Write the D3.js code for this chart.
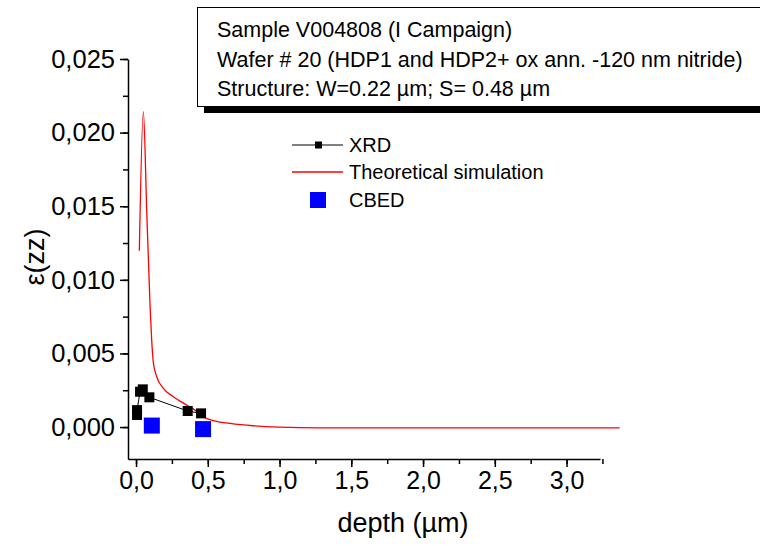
<!DOCTYPE html>
<html>
<head>
<meta charset="utf-8">
<script src="https://cdn.jsdelivr.net/npm/d3@7"></script>
<style>
  body { margin: 0; background: #fff; }
  svg { font-family: "Liberation Sans", Arial, sans-serif; }
</style>
</head>
<body>
<script>
// XRD points (depth in um, strain)
var xrdDepth = [0.007, 0.007, 0.028, 0.047, 0.093, 0.36, 0.453];
var xrdStrain = [0.00082, 0.00115, 0.0024, 0.00256, 0.00202, 0.00109, 0.00093];

// CBED points
var cbedDepth = [0.11, 0.467];
var cbedStrain = [0.0001, -0.00014];

// theoretical simulation curve
var simDepth = [0.023, 0.051, 0.075, 0.098, 0.109, 0.121, 0.144, 0.19, 0.26, 0.353, 0.411, 0.469, 0.539, 0.655, 0.817, 1.0, 1.28, 2.0, 2.75, 3.37];
var simStrain = [0.01198, 0.02142, 0.01454, 0.00817, 0.00591, 0.00435, 0.00342, 0.00263, 0.00206, 0.00149, 0.00115, 0.0007, 0.00043, 0.00025, 0.00009, 0.0, -0.00005, -0.00005, -0.00005, -0.00005];

var xTicks = [0, 0.5, 1.0, 1.5, 2.0, 2.5, 3.0];
var yTicks = [0, 0.005, 0.01, 0.015, 0.02, 0.025];
var legendNames = ["XRD", "Theoretical simulation", "CBED"];
var noteLines = ["Sample V004808 (I Campaign)",
  "Wafer # 20 (HDP1 and HDP2+ ox ann. -120 nm nitride)",
  "Structure: W=0.22 \u00b5m; S= 0.48 \u00b5m"];

var width = 760, height = 546;

var svg = d3.select("body").append("svg")
  .attr("width", width)
  .attr("height", height);

var x = d3.scaleLinear().domain([-0.056, 3.233]).range([128, 600]);
var y = d3.scaleLinear().domain([-0.00217, 0.025]).range([459, 59]);

var loc = d3.formatLocale({ decimal: ",", thousands: ".", grouping: [3], currency: ["", ""] });

// minor ticks
svg.append("g")
  .attr("transform", "translate(0,459)")
  .call(d3.axisBottom(x).tickValues(d3.range(0, 3.26, 0.25)).tickSize(5).tickFormat("").tickSizeOuter(0))
  .call(function (g) { g.select(".domain").remove(); })
  .selectAll("line").attr("stroke-width", 1.5);

svg.append("g")
  .attr("transform", "translate(128,0)")
  .call(d3.axisLeft(y).tickValues(d3.range(-0.0025, 0.0251, 0.0025).filter(function (v) { return v > -0.00217; })).tickSize(5).tickFormat("").tickSizeOuter(0))
  .call(function (g) { g.select(".domain").remove(); })
  .selectAll("line").attr("stroke-width", 1.5);

// major axes
var xAxis = svg.append("g")
  .attr("transform", "translate(0,459)")
  .call(d3.axisBottom(x).tickValues(xTicks).tickSize(8).tickPadding(4).tickSizeOuter(0)
    .tickFormat(loc.format(".1f")));
xAxis.select(".domain").attr("stroke-width", 1.5);
xAxis.selectAll("line").attr("stroke-width", 1.5);
xAxis.selectAll("text").attr("font-size", 25).attr("font-family", "Liberation Sans, Arial, sans-serif").attr("fill", "#000");

var yAxis = svg.append("g")
  .attr("transform", "translate(128,0)")
  .call(d3.axisLeft(y).tickValues(yTicks).tickSize(8).tickPadding(5).tickSizeOuter(0)
    .tickFormat(loc.format(".3f")));
yAxis.select(".domain").attr("stroke-width", 1.5);
yAxis.selectAll("line").attr("stroke-width", 1.5);
yAxis.selectAll("text").attr("font-size", 25.5).attr("font-family", "Liberation Sans, Arial, sans-serif").attr("fill", "#000");

// axis titles
svg.append("text")
  .attr("x", 403)
  .attr("y", 532)
  .attr("text-anchor", "middle")
  .attr("font-size", 27)
  .text("depth (\u00b5m)");

svg.append("text")
  .attr("transform", "translate(44,257) rotate(-90)")
  .attr("text-anchor", "middle")
  .attr("font-size", 27)
  .text("\u03b5(zz)");

// simulation line
var simData = simDepth.map(function (d, i) { return [d, simStrain[i]]; });
svg.append("path")
  .datum(simData)
  .attr("fill", "none")
  .attr("stroke", "#ff0000")
  .attr("stroke-width", 1.3)
  .attr("d", d3.line()
    .x(function (d) { return x(d[0]); })
    .y(function (d) { return y(d[1]); })
    .curve(d3.curveMonotoneX));

// XRD line + markers
var xrdData = xrdDepth.map(function (d, i) { return [d, xrdStrain[i]]; });
svg.append("path")
  .datum(xrdData)
  .attr("fill", "none")
  .attr("stroke", "#000")
  .attr("stroke-width", 1)
  .attr("d", d3.line()
    .x(function (d) { return x(d[0]); })
    .y(function (d) { return y(d[1]); }));

svg.selectAll(".xrd")
  .data(xrdData)
  .enter().append("rect")
  .attr("class", "xrd")
  .attr("x", function (d) { return x(d[0]) - 5; })
  .attr("y", function (d) { return y(d[1]) - 5; })
  .attr("width", 10)
  .attr("height", 10)
  .attr("fill", "#000");

// CBED markers
var cbedData = cbedDepth.map(function (d, i) { return [d, cbedStrain[i]]; });
svg.selectAll(".cbed")
  .data(cbedData)
  .enter().append("rect")
  .attr("class", "cbed")
  .attr("x", function (d) { return x(d[0]) - 8; })
  .attr("y", function (d) { return y(d[1]) - 8; })
  .attr("width", 16)
  .attr("height", 16)
  .attr("fill", "#0000ff");

// legend
var legend = svg.append("g");
var rowY = [145, 172, 200];
legend.append("line").attr("x1", 292).attr("x2", 343).attr("y1", rowY[0]).attr("y2", rowY[0])
  .attr("stroke", "#000").attr("stroke-width", 1);
legend.append("rect").attr("x", 315).attr("y", rowY[0] - 3.5).attr("width", 7).attr("height", 7).attr("fill", "#000");
legend.append("line").attr("x1", 292).attr("x2", 343).attr("y1", rowY[1]).attr("y2", rowY[1])
  .attr("stroke", "#ff0000").attr("stroke-width", 1.3);
legend.append("rect").attr("x", 310).attr("y", rowY[2] - 8).attr("width", 16).attr("height", 16).attr("fill", "#0000ff");
legend.selectAll("text")
  .data(legendNames)
  .enter().append("text")
  .attr("x", 349)
  .attr("y", function (d, i) { return rowY[i] + 7; })
  .attr("font-size", 20)
  .text(function (d) { return d; });

// annotation box with shadow
svg.append("rect")
  .attr("x", 204).attr("y", 107).attr("width", 600).attr("height", 6)
  .attr("fill", "#000");
svg.append("rect")
  .attr("x", 197.5).attr("y", 7.5).attr("width", 620).attr("height", 99)
  .attr("fill", "#fff").attr("stroke", "#000").attr("stroke-width", 1);
svg.selectAll(".note")
  .data(noteLines)
  .enter().append("text")
  .attr("class", "note")
  .attr("x", 217)
  .attr("y", function (d, i) { return 37 + i * 29.5; })
  .attr("font-size", 21.5)
  .text(function (d) { return d; });
</script>
</body>
</html>
